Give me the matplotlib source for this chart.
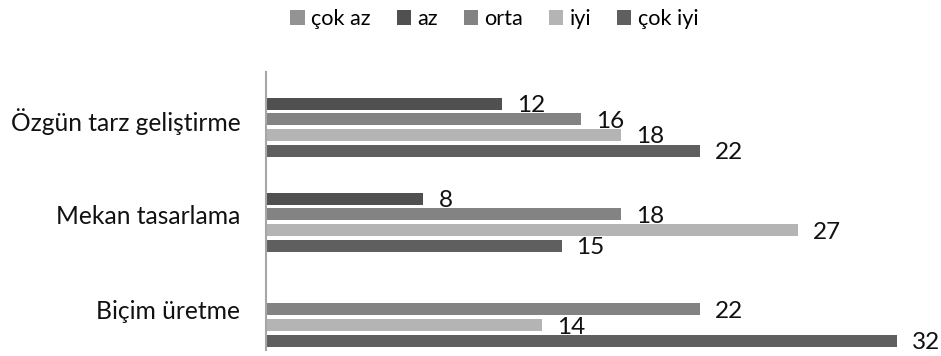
import matplotlib
matplotlib.use("Agg")
import matplotlib.pyplot as plt
from matplotlib.patches import Patch
import numpy as np

plt.rcParams['font.family'] = ['Lato', 'DejaVu Sans']

# veriler
kategoriler = ["Biçim üretme", "Mekan tasarlama", "Özgün tarz geliştirme"]
seriler = ["çok az", "az", "orta", "iyi", "çok iyi"]
cok_az = [0, 0, 0]
az = [0, 8, 12]
orta = [22, 18, 16]
iyi = [14, 27, 18]
cok_iyi = [32, 15, 22]
renkler = ["#939393", "#505050", "#838383", "#b4b4b4", "#5f5f5f"]

W, H = 941, 356
fig = plt.figure(figsize=(W / 100, H / 100), dpi=100)
# eksen alanı piksel olarak: sol 265, üst 72, alt 350
ax = fig.add_axes([265.5 / W, (H - 350) / H, 671 / W, 278 / H])

y = np.arange(len(kategoriler))
adim = 0.165
yukseklik = 0.126
degerler = [cok_az, az, orta, iyi, cok_iyi]
for i, (ad, vals, renk) in enumerate(zip(seriler, degerler, renkler)):
    yy = y + (2 - i) * adim
    ax.barh(yy, vals, height=yukseklik, color=renk, label=ad)
    for yi, v in zip(yy, vals):
        if v > 0:
            ax.annotate(str(v), (v, yi), xytext=(15, -2), textcoords="offset pixels",
                        ha="left", va="center", fontsize=17.5, color="#111111")

ax.set_xlim(0, 34)
ax.set_ylim(-0.426, 2.497)
ax.set_yticks(y)
ax.set_yticklabels(kategoriler, fontsize=17.7, color="#111111")
ax.tick_params(axis="y", length=0, pad=18)
ax.set_xticks([])
for s in ["top", "right", "bottom"]:
    ax.spines[s].set_visible(False)
ax.spines["left"].set_color("#a6a6a6")
ax.spines["left"].set_linewidth(1.5)

handles = [Patch(facecolor=c, edgecolor="none") for c in renkler]
fig.legend(handles, seriler, loc="center", bbox_to_anchor=(494.5 / W, 1 - 19 / H),
           ncol=5, frameon=False, fontsize=15.6, handlelength=0.65, handleheight=0.65,
           handletextpad=0.3, columnspacing=1.2, borderpad=0)

fig.savefig("out.png", dpi=100)
